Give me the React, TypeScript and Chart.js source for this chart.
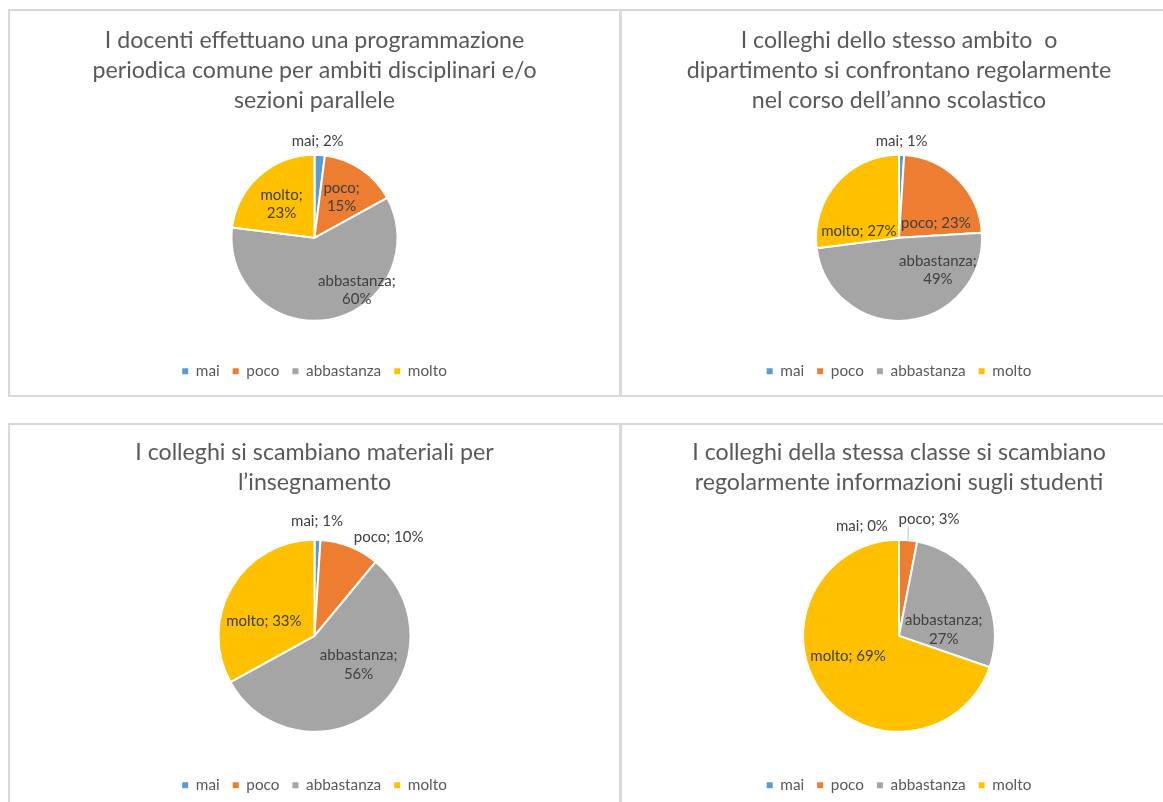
import React, { useEffect, useRef } from "react";
import { Chart, registerables } from "chart.js";

Chart.register(...registerables);

const categories = ["mai", "poco", "abbastanza", "molto"];
const sliceColors = ["#5B9BD5", "#ED7D31", "#A5A5A5", "#FFC000"];

const title1 = [
  "I docenti effettuano una programmazione",
  "periodica comune per ambiti disciplinari e/o",
  "sezioni parallele",
];
const values1 = [2, 15, 60, 23];

const title2 = [
  "I colleghi dello stesso ambito  o",
  "dipartimento si confrontano regolarmente",
  "nel corso dell’anno scolastico",
];
const values2 = [1, 23, 49, 27];

const title3 = ["I colleghi si scambiano materiali per", "l’insegnamento"];
const values3 = [1, 10, 56, 33];

const title4 = [
  "I colleghi della stessa classe si scambiano",
  "regolarmente informazioni sugli studenti",
];
const values4 = [0, 3, 27, 69];

// label placement: [angle offset from slice middle (deg), distance / radius, two lines, leader line]
const place1 = [[-1.7, 1.165, 0, 0], [-0.6, 0.59, 1, 0], [-28.2, 0.81, 1, 0], [-2.8, 0.57, 1, 0]];
const place2 = [[-0.2, 1.16, 0, 0], [22.9, 0.48, 0, 0], [-44.8, 0.61, 1, 0], [-32, 0.49, 0, 0]];
const place3 = [[-0.55, 1.2, 0, 0], [15.2, 1.29, 0, 0], [-17.1, 0.55, 1, 0], [-14.1, 0.55, 0, 0]];
const place4 = [[-18.6, 1.21, 0, 0], [9, 1.25, 0, 1], [22.4, 0.47, 1, 0], [14.1, 0.57, 0, 0]];

const FONT = "Lato";
const TEXT_COLOR = "#595959";
const LABEL_COLOR = "#404040";

const pieLabelsPlugin = {
  id: "pieLabels",
  afterDatasetsDraw(chart: any, _args: any, opts: any) {
    const place = opts && opts.placement;
    if (!place) return;
    const meta = chart.getDatasetMeta(0);
    const data = chart.data.datasets[0].data;
    const ctx = chart.ctx;
    ctx.save();
    ctx.font = `${opts.size}px ${opts.family}`;
    ctx.fillStyle = opts.color;
    ctx.textAlign = "center";
    ctx.textBaseline = "middle";
    meta.data.forEach((arc: any, i: number) => {
      const p = arc.getProps(["x", "y", "startAngle", "endAngle", "outerRadius"], true);
      const [off, f, wrap, leader] = place[i];
      const mid = (p.startAngle + p.endAngle) / 2;
      const a = mid + (off * Math.PI) / 180;
      const lx = p.x + Math.cos(a) * f * p.outerRadius;
      const ly = p.y + Math.sin(a) * f * p.outerRadius;
      const name = chart.data.labels[i];
      const pct = `${data[i]}%`;
      const lines = wrap ? [name + ";", pct] : [name + "; " + pct];
      const lh = opts.lineHeight;
      lines.forEach((l: string, k: number) => {
        ctx.fillText(l, lx, ly + (k - (lines.length - 1) / 2) * lh);
      });
      if (leader) {
        const ex = p.x + Math.cos(mid) * p.outerRadius;
        const ey = p.y + Math.sin(mid) * p.outerRadius;
        ctx.strokeStyle = "#bfbfbf";
        ctx.lineWidth = 1;
        ctx.beginPath();
        ctx.moveTo(ex, ey);
        ctx.lineTo(ex, ly + 7);
        ctx.stroke();
      }
    });
    ctx.restore();
  },
};

type PieProps = {
  title: string[];
  values: number[];
  placement: number[][];
  radius: number;
  titleTop: number;
  left: number;
  top: number;
  width: number;
  height: number;
};

function PiePanel(props: PieProps) {
  const ref = useRef<HTMLCanvasElement>(null);
  useEffect(() => {
    if (!ref.current) return;
    const chart = new Chart(ref.current, {
      type: "pie",
      data: {
        labels: categories,
        datasets: [
          {
            data: props.values,
            backgroundColor: sliceColors,
            borderColor: "#ffffff",
            borderWidth: 2,
            radius: props.radius,
          } as any,
        ],
      },
      options: {
        animation: false,
        responsive: true,
        maintainAspectRatio: false,
        layout: { padding: { top: 0, left: 0, right: 0, bottom: 6 } },
        plugins: {
          title: {
            display: true,
            text: props.title,
            color: TEXT_COLOR,
            font: { family: FONT, size: 23.2, weight: "normal", lineHeight: 30 / 23.2 },
            padding: { top: props.titleTop, bottom: 9 },
          },
          legend: {
            position: "bottom",
            labels: {
              boxWidth: 6,
              boxHeight: 6,
              padding: 13,
              color: TEXT_COLOR,
              font: { family: FONT, size: 15.3 },
              generateLabels: (c: any) =>
                c.data.labels.map((t: string, i: number) => ({
                  text: t,
                  fillStyle: sliceColors[i],
                  strokeStyle: sliceColors[i],
                  lineWidth: 0,
                  hidden: false,
                  index: i,
                  fontColor: TEXT_COLOR,
                })),
            },
          },
          tooltip: { enabled: false },
          pieLabels: {
            placement: props.placement,
            size: 15,
            family: FONT,
            color: LABEL_COLOR,
            lineHeight: 18.5,
          },
        } as any,
      },
      plugins: [pieLabelsPlugin],
    });
    return () => chart.destroy();
  }, []);
  return (
    <div
      style={{
        position: "absolute",
        left: props.left,
        top: props.top,
        width: props.width,
        height: props.height,
        border: "2px solid #d9d9d9",
        boxSizing: "border-box",
        background: "#ffffff",
      }}
    >
      <div style={{ position: "relative", width: "100%", height: "100%" }}>
        <canvas ref={ref} />
      </div>
    </div>
  );
}

export default function App() {
  return (
    <div
      style={{
        position: "fixed",
        left: 0,
        top: 0,
        width: 1163,
        height: 802,
        overflow: "hidden",
        background: "#ffffff",
      }}
    >
      <PiePanel title={title1} values={values1} placement={place1} radius={83} titleTop={15} left={8} top={9} width={613} height={388} />
      <PiePanel title={title2} values={values2} placement={place2} radius={83} titleTop={15} left={620} top={9} width={558} height={388} />
      <PiePanel title={title3} values={values3} placement={place3} radius={96} titleTop={13} left={8} top={423} width={613} height={388} />
      <PiePanel title={title4} values={values4} placement={place4} radius={96} titleTop={13} left={620} top={423} width={558} height={388} />
    </div>
  );
}
